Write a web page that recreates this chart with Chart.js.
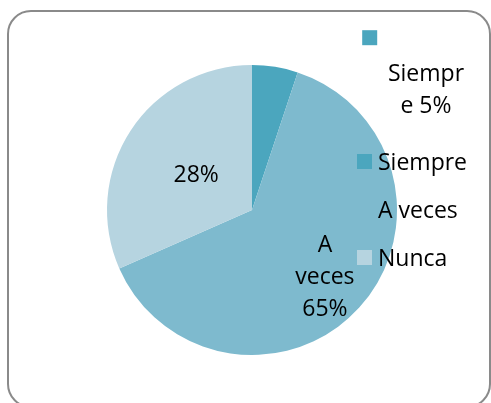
<!DOCTYPE html>
<html>
<head>
<meta charset="utf-8">
<script src="https://cdn.jsdelivr.net/npm/chart.js@4.4.0/dist/chart.umd.min.js"></script>
<style>
  html, body { margin: 0; padding: 0; background: #fff; }
  #wrap { position: relative; width: 491px; height: 403px; overflow: hidden; }
  #frame {
    position: absolute; left: 7px; top: 10px; width: 484px; height: 398px;
    border: 2px solid #8a8a8a; border-radius: 24px; box-sizing: border-box;
  }
  #pie { position: absolute; left: 0; top: 0; }
</style>
</head>
<body>
<div id="wrap">
  <div id="frame"></div>
  <canvas id="pie" width="491" height="403"></canvas>
</div>
<script>
// Chart data
const categories = ['Siempre', 'A veces', 'Nunca'];
const shares = [5.1, 63.3, 31.6];          // slice sizes as drawn
const percentLabels = ['5%', '65%', '28%']; // printed labels
const dataLabelLines = [['Siempr', 'e 5%'], ['A', 'veces', '65%'], ['28%']];

const SLICE_COLORS = ['#4ba6be', '#7ebace', '#b6d4e0'];
const FONT = "23px 'Open Sans', 'Liberation Sans', sans-serif";

// Draws the data labels and the legend the way the spreadsheet did
const labelPlugin = {
    id: 'sheetLabels',
    afterDatasetsDraw(chart) {
        const ctx = chart.ctx;
        const arcs = chart.getDatasetMeta(0).data;
        const cx = arcs[0].x, cy = arcs[0].y, r = arcs[0].outerRadius;
        ctx.save();
        ctx.font = FONT;
        ctx.fillStyle = '#000';
        ctx.textAlign = 'center';
        ctx.textBaseline = 'alphabetic';
        const lineH = 32;

        arcs.forEach((arc, i) => {
            const lines = dataLabelLines[i];
            let x, y;
            if (i === 0) {
                // small slice: label pushed outside, top right, with legend key
                x = cx + 1.2 * r;
                y = cy - 0.89 * r;
                ctx.fillStyle = SLICE_COLORS[0];
                ctx.fillRect(cx + 0.76 * r, cy - 1.24 * r, 15, 15);
                ctx.fillStyle = '#000';
            } else {
                const mid = (arc.startAngle + arc.endAngle) / 2;
                const dist = i === 1 ? 0.68 * r : 0.46 * r;
                x = cx + Math.cos(mid) * dist;
                const c = cy + Math.sin(mid) * dist;
                y = c - (lines.length - 1) * lineH / 2 + 8;
            }
            lines.forEach((t, k) => ctx.fillText(t, x, y + k * lineH));
        });

        // legend, overlapping the right edge of the pie
        const lx = chart.chartArea.right - 40;
        ctx.textAlign = 'left';
        categories.forEach((name, i) => {
            const iy = cy + (i - 1) * 48;
            ctx.fillStyle = SLICE_COLORS[i];
            ctx.fillRect(lx, iy - 8, 15, 15);
            ctx.fillStyle = '#000';
            ctx.fillText(name, lx + 21, iy + 8);
        });
        ctx.restore();
    }
};

new Chart(document.getElementById('pie'), {
    type: 'pie',
    data: {
        labels: categories,
        datasets: [{
            data: shares,
            backgroundColor: SLICE_COLORS,
            borderWidth: 0
        }]
    },
    options: {
        responsive: false,
        animation: false,
        layout: { padding: { left: 107, right: 94, top: 65, bottom: 48 } },
        plugins: {
            legend: { display: false },
            tooltip: { enabled: false }
        }
    },
    plugins: [labelPlugin]
});
</script>
</body>
</html>
